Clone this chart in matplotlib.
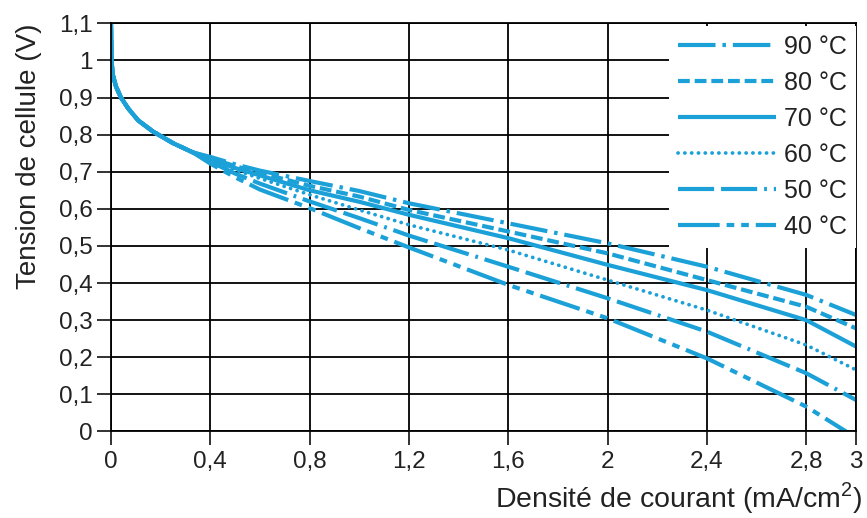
import matplotlib
matplotlib.use("Agg")
import matplotlib.pyplot as plt
from matplotlib.ticker import FixedLocator, FixedFormatter

plt.rcParams['font.family'] = ['Liberation Sans', 'DejaVu Sans']
plt.rcParams['mathtext.fontset'] = 'custom'
plt.rcParams['mathtext.rm'] = 'Liberation Sans'
plt.rcParams['lines.scale_dashes'] = False

# Activation region shared by all temperatures (mA/cm², V)
j_start = [0.0, 0.002, 0.008, 0.02, 0.04, 0.07, 0.11, 0.17, 0.25, 0.33]
u_start = [1.1, 1.0, 0.96, 0.93, 0.9, 0.87, 0.838, 0.808, 0.777, 0.752]

# Current density for the individual polarisation curves (mA/cm²)
j_curve = [0.4, 0.5, 0.6, 0.8, 1.0, 1.2, 1.6, 2.0, 2.4, 2.8, 3.0]
j_curve_40 = [0.4, 0.5, 0.6, 0.8, 1.0, 1.2, 1.6, 2.0, 2.4, 2.8, 2.96]

# Cell voltage (V) per temperature
u_90 = [0.740, 0.720, 0.703, 0.675, 0.648, 0.615, 0.561, 0.507, 0.444, 0.368, 0.314]
u_80 = [0.737, 0.715, 0.697, 0.662, 0.633, 0.597, 0.539, 0.480, 0.408, 0.336, 0.278]
u_70 = [0.734, 0.710, 0.690, 0.650, 0.619, 0.584, 0.521, 0.449, 0.381, 0.300, 0.229]
u_60 = [0.731, 0.705, 0.682, 0.638, 0.597, 0.557, 0.489, 0.408, 0.327, 0.233, 0.166]
u_50 = [0.727, 0.695, 0.668, 0.620, 0.575, 0.528, 0.444, 0.359, 0.269, 0.157, 0.085]
u_40 = [0.722, 0.685, 0.652, 0.602, 0.548, 0.496, 0.395, 0.305, 0.197, 0.067, 0.0]

labels = ['90 °C', '80 °C', '70 °C', '60 °C', '50 °C', '40 °C']

x_ticks = [0, 0.4, 0.8, 1.2, 1.6, 2.0, 2.4, 2.8, 3.0]
x_tick_labels = ['0', '0,4', '0,8', '1,2', '1,6', '2', '2,4', '2,8', '3']
y_ticks = [0, 0.1, 0.2, 0.3, 0.4, 0.5, 0.6, 0.7, 0.8, 0.9, 1.0, 1.1]
y_tick_labels = ['0', '0,1', '0,2', '0,3', '0,4', '0,5', '0,6', '0,7',
                 '0,8', '0,9', '1', '1,1']

color = '#1ba1d8'
styles = [
    dict(dashes=(27, 5, 2.5, 5)),             # 90 °C
    dict(dashes=(8.5, 3.5)),                  # 80 °C
    dict(linestyle='-'),                      # 70 °C
    dict(dashes=(0.1, 4.8), dash_capstyle='round', linewidth=2.7),  # 60 °C
    dict(dashes=(26, 5, 26, 5, 2, 5)),        # 50 °C
    dict(dashes=(30, 5, 5.5, 5, 5.5, 5)),     # 40 °C
]

series = [
    (j_curve, u_90),
    (j_curve, u_80),
    (j_curve, u_70),
    (j_curve, u_60),
    (j_curve, u_50),
    (j_curve_40, u_40),
]

fig = plt.figure(figsize=(8.67, 5.18), dpi=100)
ax = fig.add_axes([0.128, 0.167, 0.8593, 0.788])

handles = []
for (xs, ys), st, lab in zip(series, styles, labels):
    kw = dict(color=color, linewidth=3.0)
    kw.update(st)
    line, = ax.plot(j_start + xs, u_start + ys, label=lab,
                    solid_capstyle='butt', solid_joinstyle='round', **kw)
    handles.append(line)

ax.set_xlim(0, 3)
ax.set_ylim(0, 1.1)
ax.xaxis.set_major_locator(FixedLocator(x_ticks))
ax.xaxis.set_major_formatter(FixedFormatter(x_tick_labels))
ax.yaxis.set_major_locator(FixedLocator(y_ticks))
ax.yaxis.set_major_formatter(FixedFormatter(y_tick_labels))

ax.grid(True, color='black', linewidth=1.3)
ax.set_axisbelow(True)
for sp in ax.spines.values():
    sp.set_linewidth(1.3)
    sp.set_color('black')

ax.tick_params(axis='both', direction='out', length=10, width=1.3,
               labelsize=17.5, colors='#222222')
ax.tick_params(axis='x', pad=4)
ax.tick_params(axis='y', pad=3)

ax.set_xlabel(r'Densité de courant (mA/cm$^{\mathregular{2}}$)',
              fontsize=20.5, color='#222222', loc='right')
ax.set_ylabel('Tension de cellule (V)', fontsize=20, color='#222222',
              loc='top')
ax.xaxis.set_label_coords(1.009, -0.12)
ax.yaxis.set_label_coords(-0.093, 1.0)

leg = ax.legend(handles=handles, loc='upper right',
                bbox_to_anchor=(1.0, 0.993), borderaxespad=0,
                fontsize=18, handlelength=3.95, handletextpad=0.3,
                borderpad=0.36, labelspacing=0.48, frameon=True,
                fancybox=False, facecolor='white', edgecolor='none',
                framealpha=1.0)
for t in leg.get_texts():
    t.set_color('#222222')

fig.savefig('out.png', dpi=100)
